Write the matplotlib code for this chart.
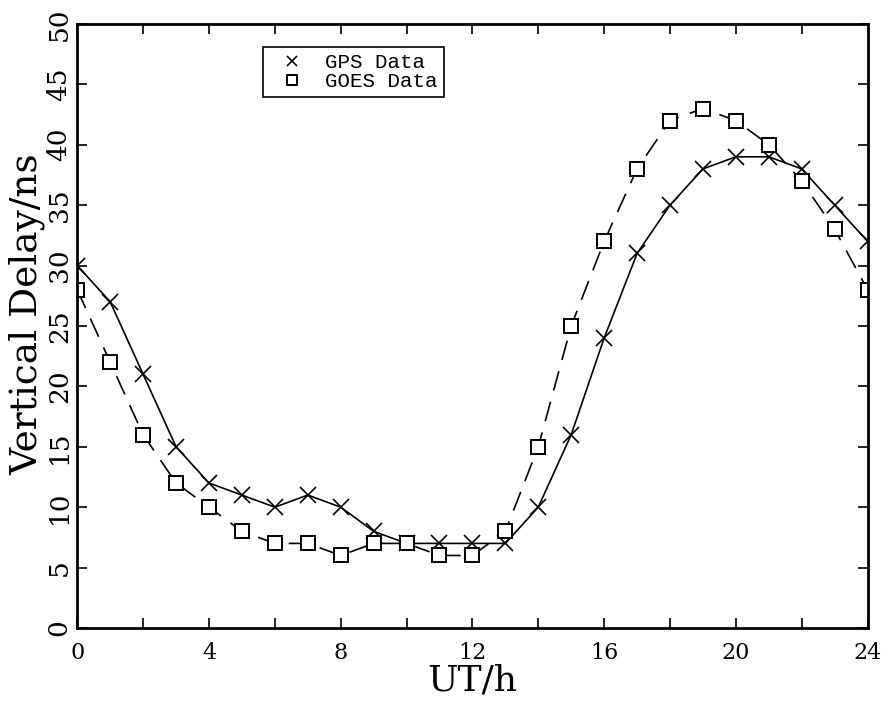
"""GPS vs GOES vertical ionospheric delay over one day."""

import matplotlib
matplotlib.use("Agg")
import matplotlib.pyplot as plt
import numpy as np

hours = list(range(25))
gps_delay = [30, 27, 21, 15, 12, 11, 10, 11, 10, 8, 7, 7, 7, 7,
             10, 16, 24, 31, 35, 38, 39, 39, 38, 35, 32]
goes_delay = [28, 22, 16, 12, 10, 8, 7, 7, 6, 7, 7, 6, 6, 8,
              15, 25, 32, 38, 42, 43, 42, 40, 37, 33, 28]

x_ticks = list(range(0, 25, 2))
x_labels = [str(t) if t % 4 == 0 else "" for t in x_ticks]
y_ticks = list(range(0, 51, 5))

plt.rcParams["font.family"] = "DejaVu Serif"

fig = plt.figure(figsize=(8.88, 7.04), dpi=100)
ax = fig.add_axes([0.087, 0.108, 0.890, 0.858])

ax.plot(hours, gps_delay, color="black", lw=1.2, marker="x", ms=11,
        mew=1.2, label="GPS Data")
ax.plot(hours, goes_delay, color="black", lw=1.2, ls=(0, (12, 7)),
        marker="s", ms=9.5, mfc="white", mew=1.4, label="GOES Data")

ax.set_xlim(0, 24)
ax.set_ylim(0, 50)
ax.set_xticks(x_ticks)
ax.set_xticklabels(x_labels, fontsize=16)
ax.set_yticks(y_ticks)
ax.set_yticklabels([str(t) for t in y_ticks], fontsize=19, rotation=90,
                   va="center")
ax.tick_params(direction="in", length=7, width=1.2, top=True, right=True)
ax.tick_params(axis="x", pad=10)
ax.tick_params(axis="y", pad=4)
for spine in ax.spines.values():
    spine.set_linewidth(2)

ax.set_xlabel("UT/h", fontsize=26)
ax.xaxis.set_label_coords(0.5, -0.058)
ax.set_ylabel("Vertical Delay/ns", fontsize=27)
ax.yaxis.set_label_coords(-0.040, 0.52)

leg = ax.legend(loc="upper left", bbox_to_anchor=(0.235, 0.962),
                borderaxespad=0,
                prop={"family": "Liberation Mono", "size": 15},
                handlelength=2.2, handletextpad=0.5, borderpad=0.3,
                labelspacing=0.0, fancybox=False, framealpha=1,
                edgecolor="black", markerscale=0.7)
for line in leg.get_lines():
    line.set_linestyle("none")
leg.get_frame().set_linewidth(1.2)

fig.savefig("out.png", dpi=100)
